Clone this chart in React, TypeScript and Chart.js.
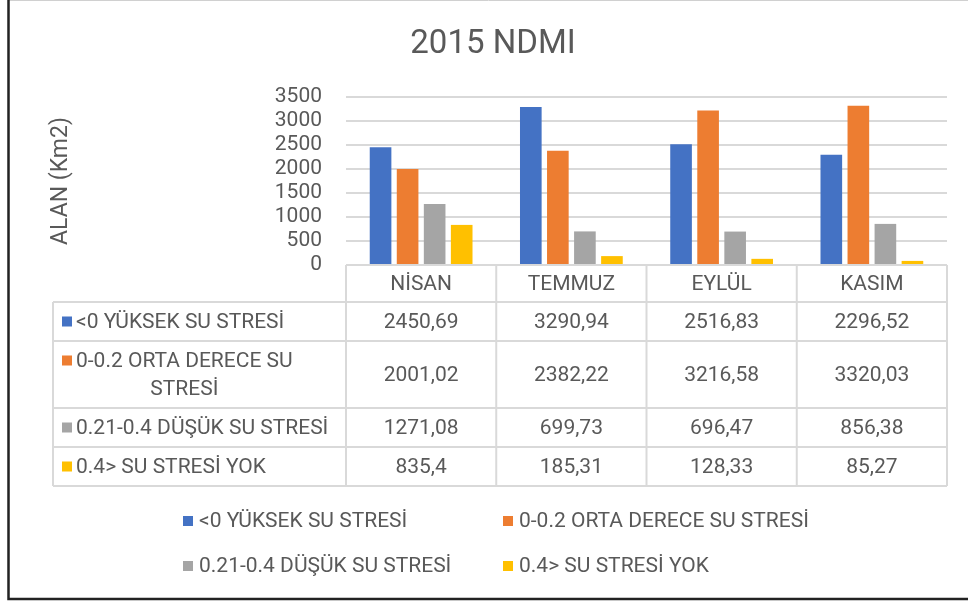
import { useEffect, useRef } from "react";
import { Chart, registerables } from "chart.js";

Chart.register(...registerables);

const chartTitle = "2015 NDMI";
const yAxisTitle = "ALAN (Km2)";
const categories = ["NİSAN", "TEMMUZ", "EYLÜL", "KASIM"];
const seriesNames = [
  "<0 YÜKSEK SU STRESİ",
  "0-0.2 ORTA DERECE SU STRESİ",
  "0.21-0.4 DÜŞÜK SU STRESİ",
  "0.4> SU STRESİ YOK",
];
const yuksekStres = [2450.69, 3290.94, 2516.83, 2296.52];
const ortaStres = [2001.02, 2382.22, 3216.58, 3320.03];
const dusukStres = [1271.08, 699.73, 696.47, 856.38];
const stresYok = [835.4, 185.31, 128.33, 85.27];
const seriesColors = ["#4472C4", "#ED7D31", "#A5A5A5", "#FFC000"];
const yMin = 0;
const yMax = 3500;
const yStep = 500;

const FONT = "Roboto, 'Noto Sans', sans-serif";
const TEXT = "#595959";
const LINE = "#d9d9d9";

const fmt = (v: number) => String(v).replace(".", ",");

function wrap(ctx: CanvasRenderingContext2D, text: string, maxW: number): string[] {
  const words = text.split(" ");
  const lines: string[] = [];
  let cur = "";
  for (const w of words) {
    const t = cur ? cur + " " + w : w;
    if (ctx.measureText(t).width > maxW && cur) {
      lines.push(cur);
      cur = w;
    } else cur = t;
  }
  if (cur) lines.push(cur);
  return lines;
}

const tablePlugin = {
  id: "dataTable",
  afterDraw(chart: any) {
    const ctx: CanvasRenderingContext2D = chart.ctx;
    const area = chart.chartArea;
    const xs = chart.scales.x;
    const n = categories.length;
    const bounds: number[] = [area.left];
    for (let i = 0; i < n - 1; i++) {
      bounds.push((xs.getPixelForValue(i) + xs.getPixelForValue(i + 1)) / 2);
    }
    bounds.push(area.right);
    const tableLeft = 53;
    const headerTop = area.bottom;
    const headerH = 37;
    const lineH = 28;
    const datasets = chart.data.datasets;

    ctx.save();
    // title
    ctx.fillStyle = TEXT;
    ctx.font = `33px ${FONT}`;
    ctx.textAlign = "center";
    ctx.textBaseline = "middle";
    ctx.fillText(chartTitle, 493, 45);

    ctx.font = `21px ${FONT}`;
    const labelLines = datasets.map((d: any) =>
      wrap(ctx, d.label, area.left - tableLeft - 26)
    );
    const rowTops: number[] = [headerTop + headerH];
    labelLines.forEach((ls: string[]) => {
      rowTops.push(rowTops[rowTops.length - 1] + 11 + ls.length * lineH);
    });
    const bottom = rowTops[rowTops.length - 1];

    // y axis title
    ctx.font = `23px ${FONT}`;
    ctx.save();
    ctx.translate(61, (area.top + area.bottom) / 2);
    ctx.rotate(-Math.PI / 2);
    ctx.fillText(yAxisTitle, 0, 0);
    ctx.restore();

    // lines
    ctx.strokeStyle = LINE;
    ctx.lineWidth = 2;
    ctx.beginPath();
    ctx.moveTo(area.left, headerTop);
    ctx.lineTo(area.right, headerTop);
    rowTops.forEach((y) => {
      ctx.moveTo(tableLeft, y);
      ctx.lineTo(area.right, y);
    });
    ctx.moveTo(tableLeft, rowTops[0]);
    ctx.lineTo(tableLeft, bottom);
    bounds.forEach((x) => {
      ctx.moveTo(x, headerTop);
      ctx.lineTo(x, bottom);
    });
    ctx.stroke();

    // header
    ctx.font = `21px ${FONT}`;
    ctx.fillStyle = TEXT;
    ctx.textAlign = "center";
    ctx.textBaseline = "middle";
    categories.forEach((c, i) => {
      ctx.fillText(c, (bounds[i] + bounds[i + 1]) / 2, headerTop + headerH / 2 + 1);
    });

    // rows
    datasets.forEach((d: any, r: number) => {
      const top = rowTops[r];
      const bot = rowTops[r + 1];
      const mid = (top + bot) / 2;
      const ls = labelLines[r];
      const textX = tableLeft + 23;
      const firstW = ctx.measureText(ls[0]).width;
      const y0 = mid - ((ls.length - 1) * lineH) / 2;
      ctx.fillStyle = d.backgroundColor;
      ctx.fillRect(tableLeft + 9, y0 - 5, 10, 10);
      ctx.fillStyle = TEXT;
      ls.forEach((t: string, k: number) => {
        if (k === 0) {
          ctx.textAlign = "left";
          ctx.fillText(t, textX, y0 + 1);
        } else {
          ctx.textAlign = "center";
          ctx.fillText(t, textX + firstW / 2, y0 + k * lineH + 1);
        }
      });
      ctx.textAlign = "center";
      d.data.forEach((v: number, i: number) => {
        ctx.fillText(fmt(v), (bounds[i] + bounds[i + 1]) / 2, mid + 1);
      });
    });

    // legend
    const legX = [183, 503];
    const legY = [521, 566];
    ctx.textAlign = "left";
    datasets.forEach((d: any, i: number) => {
      const x = legX[i % 2];
      const y = legY[Math.floor(i / 2)];
      ctx.fillStyle = d.backgroundColor;
      ctx.fillRect(x, y - 5, 10, 10);
      ctx.fillStyle = TEXT;
      ctx.fillText(d.label, x + 16, y + 1);
    });
    ctx.restore();
  },
};

const framePlugin = {
  id: "frame",
  afterDraw(chart: any) {
    const ctx: CanvasRenderingContext2D = chart.ctx;
    ctx.save();
    ctx.strokeStyle = "#d0d0d0";
    ctx.lineWidth = 1;
    ctx.beginPath();
    ctx.moveTo(9, 0.5);
    ctx.lineTo(968, 0.5);
    ctx.stroke();
    ctx.strokeStyle = "#222";
    ctx.lineWidth = 2.5;
    ctx.beginPath();
    ctx.moveTo(8.5, 0);
    ctx.lineTo(8.5, 599);
    ctx.lineTo(968, 599);
    ctx.stroke();
    ctx.restore();
  },
};

export default function App() {
  const ref = useRef<HTMLCanvasElement | null>(null);
  useEffect(() => {
    document.body.style.margin = "0";
    const canvas = ref.current!;
    const values = [yuksekStres, ortaStres, dusukStres, stresYok];
    const chart = new Chart(canvas, {
      type: "bar",
      data: {
        labels: categories,
        datasets: seriesNames.map((name, i) => ({
          label: name,
          data: values[i],
          backgroundColor: seriesColors[i],
          borderWidth: 0,
          categoryPercentage: 0.72,
          barPercentage: 0.8,
        })),
      },
      options: {
        responsive: false,
        animation: false,
        devicePixelRatio: 1,
        layout: { padding: { top: 97, right: 21, bottom: 338, left: 0 } },
        plugins: {
          legend: { display: false },
          tooltip: { enabled: false },
          title: { display: false },
        },
        scales: {
          x: { display: false, offset: true },
          y: {
            min: yMin,
            max: yMax,
            ticks: {
              stepSize: yStep,
              autoSkip: false,
              color: TEXT,
              font: { family: FONT, size: 21 },
              padding: 24,
              callback: (v: any) => String(v),
            },
            grid: { color: LINE, lineWidth: 2, drawTicks: false },
            border: { display: false },
            afterFit(scale: any) {
              scale.width = 346;
            },
          },
        },
      },
      plugins: [tablePlugin, framePlugin],
    } as any);
    return () => chart.destroy();
  }, []);
  return (
    <div style={{ position: "absolute", left: 0, top: 0, width: 968, height: 603, background: "#fff" }}>
      <canvas ref={ref} width={968} height={603} style={{ display: "block" }} />
    </div>
  );
}
